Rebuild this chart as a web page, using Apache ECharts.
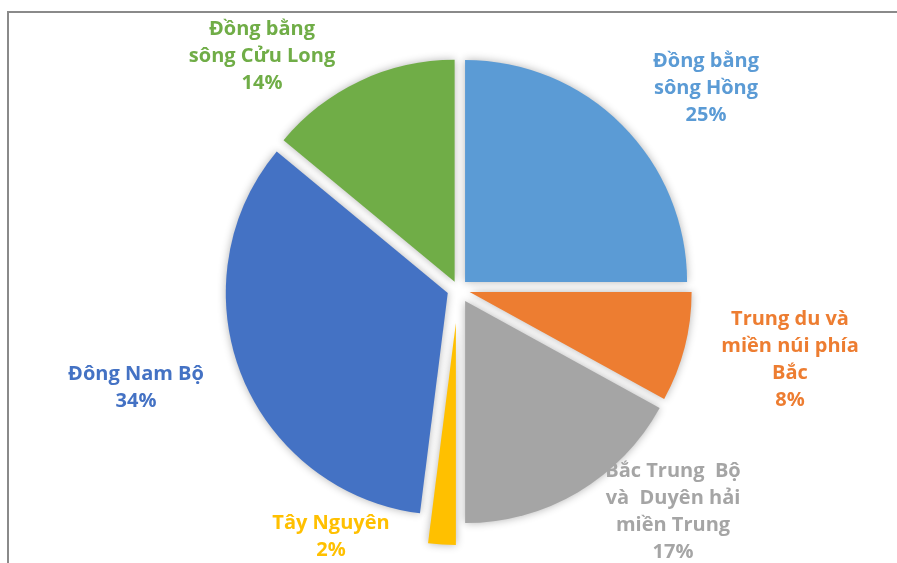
<!DOCTYPE html>
<html>
<head>
<meta charset="utf-8">
<script src="https://cdn.jsdelivr.net/npm/echarts@6/dist/echarts.min.js"></script>
<style>
  html, body { margin: 0; padding: 0; background: #fff; }
  #frame {
    position: absolute; left: 7px; top: 11px; width: 900px; height: 560px;
    border-left: 2px solid #8a8a8a; border-top: 2px solid #8a8a8a;
  }
  #chart { position: absolute; left: 0; top: 0; width: 897px; height: 563px; }
</style>
</head>
<body>
<div id="frame"></div>
<div id="chart"></div>
<script>
// vùng kinh tế, theo thứ tự chiều kim đồng hồ từ 12 giờ
const regions = [
  'Đồng bằng\nsông Hồng',
  'Trung du và\nmiền núi phía\nBắc',
  'Bắc Trung  Bộ\nvà  Duyên hải\nmiền Trung',
  'Tây Nguyên',
  'Đông Nam Bộ',
  'Đồng bằng\nsông Cửu Long'
]
const shares = [25, 8, 17, 2, 34, 14]
const colors = ['#5B9BD5', '#ED7D31', '#A5A5A5', '#FFC000', '#4472C4', '#70AD47']
// tâm của từng nhãn (px)
const labelPos = [[706, 88], [790, 360], [673, 512], [331, 537], [136, 388], [262, 56]]
// độ kéo rời của từng lát (px)
const explode = [10, 12, 14, 34, 11, 8]

const pieCenter = [458, 289]
const pieRadius = 222

const total = shares.reduce((s, v) => s + v, 0)

// tâm dời theo góc giữa của lát thứ i
function sliceCenter(i) {
  const before = shares.slice(0, i).reduce((s, v) => s + v, 0)
  const mid = (90 - (before + shares[i] / 2) / total * 360) * Math.PI / 180
  return [
    pieCenter[0] + Math.cos(mid) * explode[i],
    pieCenter[1] - Math.sin(mid) * explode[i]
  ]
}

const hidden = { color: 'transparent', shadowBlur: 0 }

const chart = echarts.init(document.getElementById('chart'))

// mỗi lát một series với tâm dời riêng
const sliceSeries = regions.map((_, k) => ({
  type: 'pie',
  center: sliceCenter(k),
  radius: pieRadius,
  startAngle: 90,
  clockwise: true,
  silent: true,
  data: regions.map((name, i) => ({
    name: name,
    value: shares[i],
    itemStyle: i === k ? { color: colors[i] } : hidden
  })),
  itemStyle: {
    shadowBlur: 9,
    shadowColor: 'rgba(0, 0, 0, 0.3)'
  },
  label: { show: false },
  labelLine: { show: false },
  emphasis: { disabled: true }
}))

// series nhãn
const labelSeries = {
  type: 'pie',
  center: pieCenter,
  radius: pieRadius,
  startAngle: 90,
  clockwise: true,
  silent: true,
  z: 3,
  data: regions.map((name, i) => ({
    name: name,
    value: shares[i],
    itemStyle: hidden,
    label: { color: colors[i] }
  })),
  label: {
    show: true,
    position: 'outside',
    formatter: '{b}\n{d}%',
    fontFamily: 'Open Sans',
    fontWeight: 'bold',
    fontSize: 20,
    lineHeight: 27,
    align: 'center'
  },
  labelLine: { show: false },
  labelLayout: function (p) {
    const pos = labelPos[p.dataIndex]
    return { x: pos[0], y: pos[1], align: 'center', verticalAlign: 'middle' }
  },
  emphasis: { disabled: true }
}

chart.setOption({
  animation: false,
  series: sliceSeries.concat([labelSeries])
})

window.addEventListener('resize', () => chart.resize())
</script>
</body>
</html>
